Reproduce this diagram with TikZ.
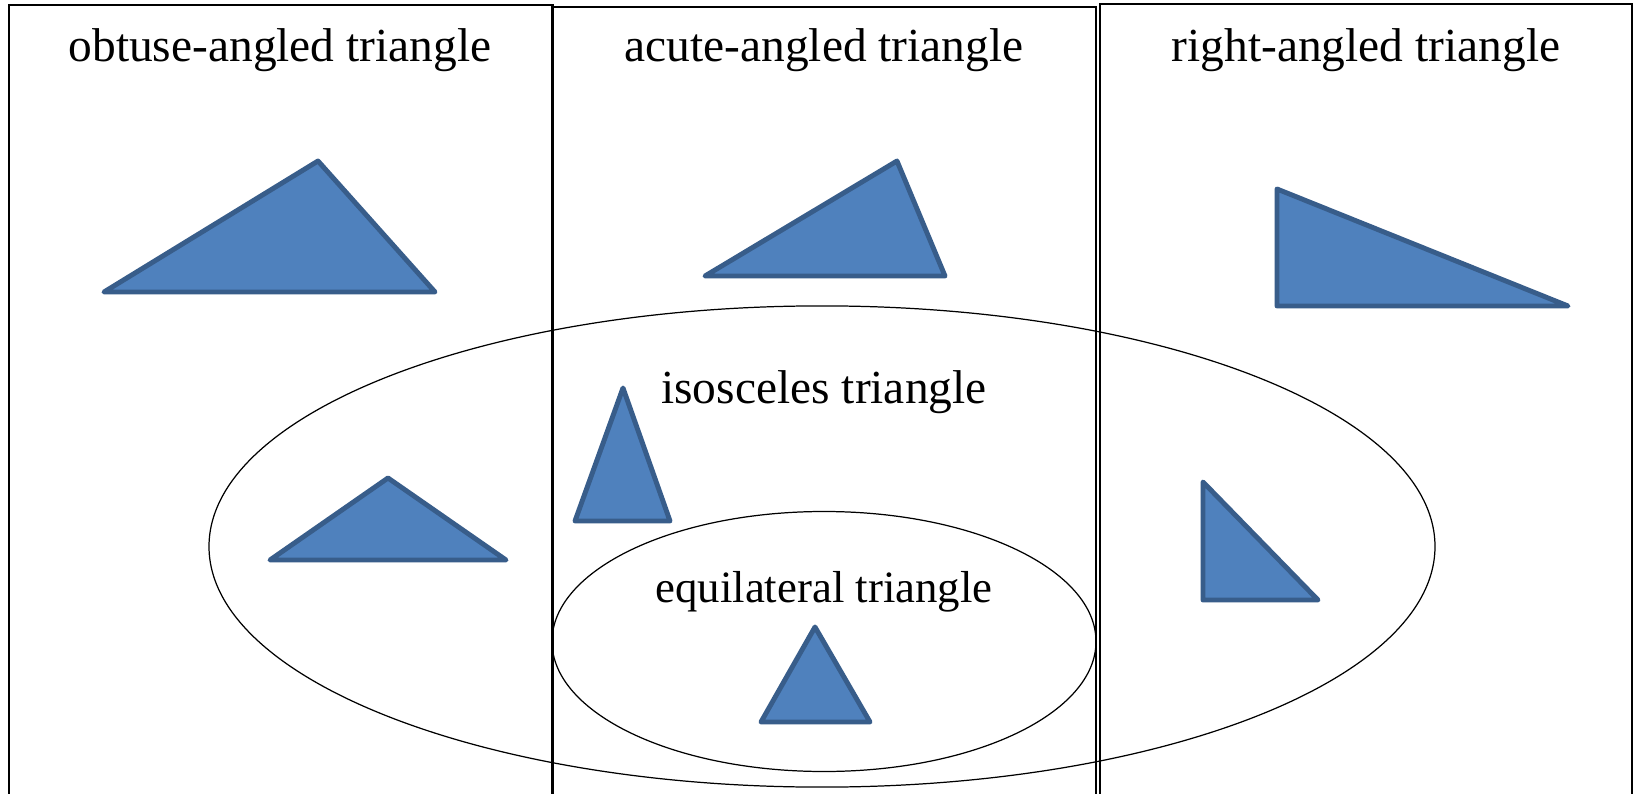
\documentclass[tikz,border=0pt]{standalone}
\usepackage{fontspec}
\setmainfont{Liberation Serif}
\usetikzlibrary{positioning}
\definecolor{triFill}{HTML}{4F81BD}
\definecolor{triLine}{HTML}{385D8A}

\begin{document}
\begin{tikzpicture}[
    x=0.02cm, y=-0.02cm,
    panel/.style={
        draw=black,
        line width=0.6pt
    },
    setline/.style={
        draw=black,
        line width=0.7pt
    },
    tri/.style={
        fill=triFill,
        draw=triLine,
        line width=2.8pt,
        line join=round
    },
    title/.style={
        font=\fontsize{27}{32}\selectfont,
        inner sep=0pt
    }
]
\clip (0,0) rectangle (1637,794);
\fill[white] (0,0) rectangle (1637,794);

% ------------------------------------------------------------
% Three panels, open at the bottom
% ------------------------------------------------------------
\draw[panel] (9,810) rectangle (553,5);
\draw[panel] (552,810) rectangle (1096,7);
\draw[panel] (1100,810) rectangle (1632,4);

\node[title] (obtuse) at (280,50) {obtuse-angled triangle};
\node[title] (acute) at (824,50) {acute-angled triangle};
\node[title] (right) at (1366,50) {right-angled triangle};

% ------------------------------------------------------------
% Sets: isosceles and equilateral
% ------------------------------------------------------------
\draw[setline] (822,546.5) ellipse [x radius=613, y radius=240.6];
\draw[setline] (824,641.5) ellipse [x radius=272, y radius=130];

\node[title] (isosceles) at (824,392) {isosceles triangle};
\node[title, font=\fontsize{25.5}{30}\selectfont] (equilateral) at (824,592) {equilateral triangle};

% ------------------------------------------------------------
% Triangles
% ------------------------------------------------------------
% top row
\draw[tri] (104,292) -- (435,292) -- (318,161) -- cycle;
\draw[tri] (705,276) -- (945,276) -- (897,161) -- cycle;
\draw[tri] (1277,189) -- (1277,306) -- (1568,306) -- cycle;

% isosceles
\draw[tri] (270,560) -- (506,560) -- (388,478) -- cycle;
\draw[tri] (575,521) -- (670,521) -- (623,388) -- cycle;
\draw[tri] (1203,482) -- (1203,600) -- (1318,600) -- cycle;

% equilateral
\draw[tri] (761,722) -- (870,722) -- (815,627) -- cycle;

\end{tikzpicture}
\end{document}
